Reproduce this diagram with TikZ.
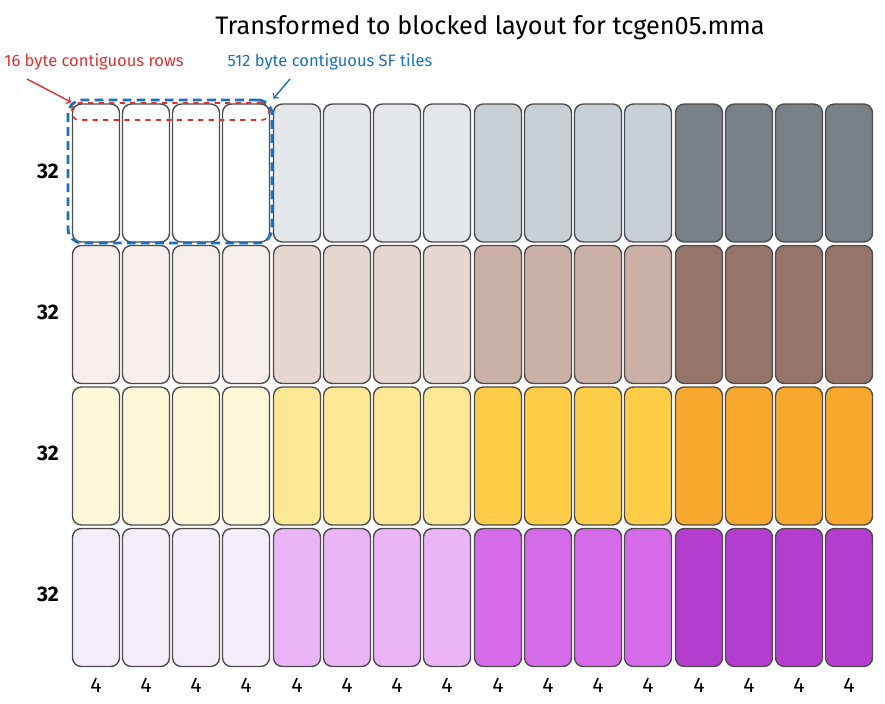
\documentclass[tikz,border=0pt]{standalone}
\usepackage{fontspec}
\setmainfont{Fira Sans}
\usetikzlibrary{arrows, positioning}

\definecolor{tone-0-0}{HTML}{FFFFFF}
\definecolor{tone-0-1}{HTML}{E5E8EB}
\definecolor{tone-0-2}{HTML}{C8CFD5}
\definecolor{tone-0-3}{HTML}{788088}
\definecolor{tone-1-0}{HTML}{F6EFEC}
\definecolor{tone-1-1}{HTML}{E6D7D1}
\definecolor{tone-1-2}{HTML}{CBB0A7}
\definecolor{tone-1-3}{HTML}{957569}
\definecolor{tone-2-0}{HTML}{FEF8D9}
\definecolor{tone-2-1}{HTML}{FDE896}
\definecolor{tone-2-2}{HTML}{FFCD47}
\definecolor{tone-2-3}{HTML}{F9A82E}
\definecolor{tone-3-0}{HTML}{F5EEFA}
\definecolor{tone-3-1}{HTML}{EBB4F6}
\definecolor{tone-3-2}{HTML}{D56BE9}
\definecolor{tone-3-3}{HTML}{B43DCF}
\definecolor{annred}{HTML}{E03131}
\definecolor{annblue}{HTML}{1971C2}

\tikzset{
    cell/.style={rectangle, rounded corners=5pt, minimum width=0.94cm, minimum height=2.76cm, draw=black!70, line width=0.8pt},
    rowlabel/.style={font=\large\bfseries},
    collabel/.style={font=\large},
    note/.style={font=\fontsize{9.4}{11}\selectfont},
    strip/.style={rectangle, rounded corners=4pt, inner sep=0pt, minimum width=3.94cm, minimum height=0.34cm, draw=annred, dashed, line width=0.9pt},
    tilebox/.style={rectangle, rounded corners=8pt, inner sep=0pt, minimum width=4.08cm, minimum height=2.86cm, draw=annblue, line width=1.6pt, dash pattern=on 5pt off 3pt},
    arrow/.style={thick,->,>=to}
}

\begin{document}
\begin{tikzpicture}[x=0.02cm, y=-0.02cm]
    \useasboundingbox (0,0) rectangle (885,703);
    \node (title) [font=\Large] at (490,28) {Transformed to blocked layout for tcgen05.mma};

    \foreach \r in {0,...,3} {
        \foreach \g in {0,...,3} {
            \foreach \k in {0,...,3} {
                \pgfmathtruncatemacro{\c}{4*\g+\k}
                \node (cell-\r-\c) [cell, fill=tone-\r-\g] at ({96+201*\g+50*\k}, {173+141.5*\r}) {};
            }
        }
        \node (rowlab-\r) [rowlabel] at (48, {171+141*\r}) {32};
    }

    \foreach \c in {0,...,15} {
        \node (collab-\c) [collabel, below=0.1cm of cell-3-\c] {4};
    }

    \node (rows) [strip] at (170.5,111.5) {};
    \node (sftile) [tilebox] at (170,171.5) {};

    \node (rowsnote) [note, text=annred] at (94,62) {16 byte contiguous rows};
    \node (sfnote) [note, text=annblue] at (330,62) {512 byte contiguous SF tiles};

    \coordinate (rowstail) at (27,79);
    \coordinate (sftail) at (290,79);
    \draw [arrow, annred] (rowstail) -- (rows.north west);
    \draw [arrow, annblue] (sftail) -- (sftile.north east);
\end{tikzpicture}
\end{document}
